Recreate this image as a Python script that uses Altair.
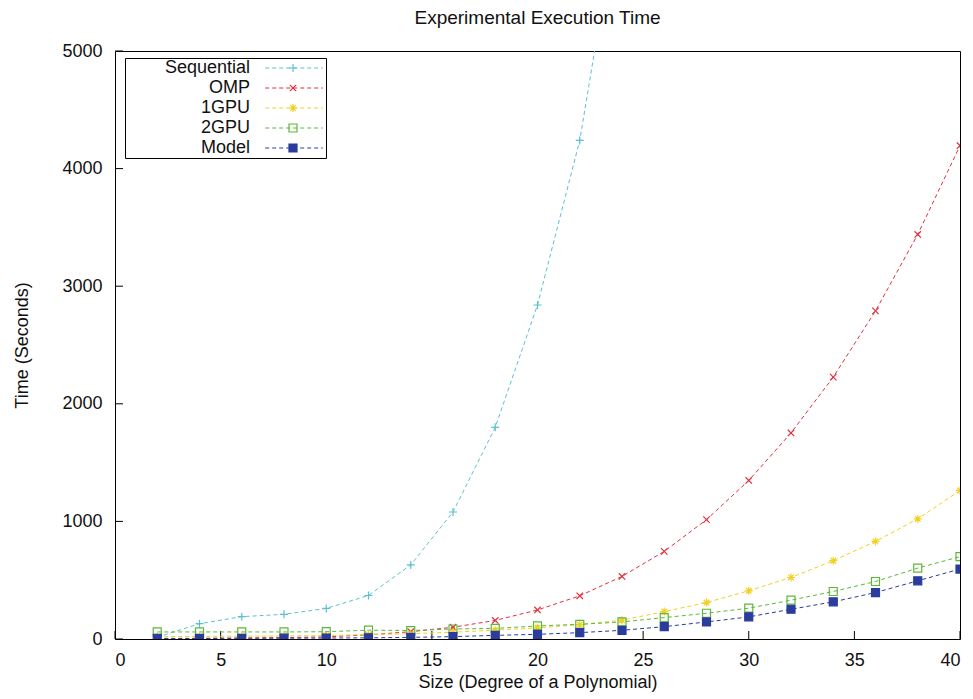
import altair as alt
import pandas as pd

# ---- data ----
names = ["Sequential", "OMP", "1GPU", "2GPU", "Model"]
colors = ["#5cc0d2", "#e0303c", "#f2d020", "#5cb83a", "#2a3c9c"]
fills = ["transparent", "transparent", "transparent", "transparent", "#2a3c9c"]

sizes = [2, 4, 6, 8, 10, 12, 14, 16, 18, 20, 22, 24, 26, 28, 30, 32, 34, 36, 38, 40]
seq_sizes = [2, 4, 6, 8, 10, 12, 14, 16, 18, 20, 22, 24]

sequential = [15, 130, 190, 210, 260, 370, 630, 1080, 1800, 2840, 4240, 6400]
omp = [3, 5, 8, 12, 18, 35, 62, 100, 158, 247, 367, 532, 745, 1015, 1348, 1752, 2227, 2790, 3440, 4195]
gpu1 = [20, 22, 24, 26, 30, 38, 45, 58, 75, 95, 122, 160, 233, 310, 410, 523, 666, 830, 1021, 1263]
gpu2 = [60, 60, 60, 60, 62, 75, 72, 85, 90, 111, 125, 145, 182, 219, 262, 330, 404, 489, 603, 700]
model = [5, 5, 6, 7, 8, 10, 14, 20, 31, 40, 54, 74, 105, 145, 188, 253, 316, 395, 495, 595]

x_ticks = [0, 5, 10, 15, 20, 25, 30, 35, 40]
y_ticks = [0, 1000, 2000, 3000, 4000, 5000]

# ---- build the long table ----
marker_names = [n + " " for n in names]  # separate domain for the marker legend
rows = []
for name, xs, ys in [
    ("Sequential", seq_sizes, sequential),
    ("OMP", sizes, omp),
    ("1GPU", sizes, gpu1),
    ("2GPU", sizes, gpu2),
    ("Model", sizes, model),
]:
    for xv, yv in zip(xs, ys):
        rows.append({"size": xv, "time": yv, "series": name, "marker": name + " "})
df = pd.DataFrame(rows)

plus_path = "M-1,0L1,0M0,-1L0,1"
cross_path = "M-0.8,-0.8L0.8,0.8M-0.8,0.8L0.8,-0.8"
star_path = "M-1,0L1,0M0,-1L0,1M-0.7,-0.7L0.7,0.7M-0.7,0.7L0.7,-0.7"
shapes = [plus_path, cross_path, star_path, "square", "square"]
sample_path = "M-7.2,0L7.2,0"  # long dashed line sample for the legend

FONT = "Liberation Sans"
W, H = 845, 588

x_enc = alt.X("size:Q", scale=alt.Scale(domain=[0, 40], nice=False),
              axis=alt.Axis(values=x_ticks, title="Size (Degree of a Polynomial)", format="d",
                            ticks=False, tickSize=0, domain=False, grid=False,
                            labelPadding=12, titlePadding=4))
y_enc = alt.Y("time:Q", scale=alt.Scale(domain=[0, 5000], nice=False),
              axis=alt.Axis(values=y_ticks, title="Time (Seconds)", format="d",
                            ticks=False, tickSize=0, domain=False, grid=False,
                            labelPadding=13, titlePadding=30))

legend_lines = alt.Legend(
    title=None, orient="none", legendX=10, legendY=7,
    symbolType=sample_path, symbolSize=64, symbolStrokeWidth=1,
    symbolDash=[4, 3], symbolOffset=159, labelOffset={"expr": "-53"}, labelAlign="right",
    labelFont=FONT, labelFontSize=18, labelColor="#111", rowPadding=2,
    padding=1, strokeColor="#000",
)
legend_marks = alt.Legend(
    title=None, orient="none", legendX=168, legendY=7,
    symbolSize=64, symbolStrokeWidth=1.2, symbolOffset=0,
    labelFont=FONT, labelFontSize=18, labelExpr="''", rowPadding=2,
    clipHeight=18, padding=1,
)

lines = alt.Chart(df).mark_line(strokeDash=[4, 3], strokeWidth=1, clip=True).encode(
    x=x_enc,
    y=y_enc,
    color=alt.Color("series:N", scale=alt.Scale(domain=names, range=colors), legend=legend_lines),
)

points = alt.Chart(df).mark_point(filled=False, size=64, strokeWidth=1.2, opacity=1, clip=True).encode(
    x="size:Q",
    y="time:Q",
    shape=alt.Shape("marker:N", scale=alt.Scale(domain=marker_names, range=shapes), legend=legend_marks),
    stroke=alt.Stroke("marker:N", scale=alt.Scale(domain=marker_names, range=colors), legend=legend_marks),
    fill=alt.Fill("marker:N", scale=alt.Scale(domain=marker_names, range=fills), legend=legend_marks),
)

ytick_df = pd.DataFrame({"time": y_ticks})
xtick_df = pd.DataFrame({"size": x_ticks})

yticks = alt.Chart(ytick_df).mark_rule(color="#000", strokeWidth=1).encode(
    y="time:Q", x=alt.value(0), x2=alt.value(8)
)
xticks = alt.Chart(xtick_df).mark_rule(color="#000", strokeWidth=1).encode(
    x="size:Q", y=alt.value(H), y2=alt.value(H - 8)
)

chart = alt.layer(yticks, xticks, lines, points).properties(
    width=W, height=H,
    background="white",
    title=alt.Title("Experimental Execution Time", font=FONT, fontSize=19,
                    fontWeight="normal", color="#111", offset=14, anchor="middle"),
    autosize=alt.AutoSizeParams(type="none"),
    padding={"left": 115, "top": 51, "right": 13, "bottom": 60},
).configure_view(stroke="#000", strokeWidth=1).configure_axis(
    labelFont=FONT, labelFontSize=18, labelColor="#111",
    titleFont=FONT, titleFontSize=18, titleColor="#111", titleFontWeight="normal",
)

chart.save("out.html", embed_options={"renderer": "svg", "actions": False})
